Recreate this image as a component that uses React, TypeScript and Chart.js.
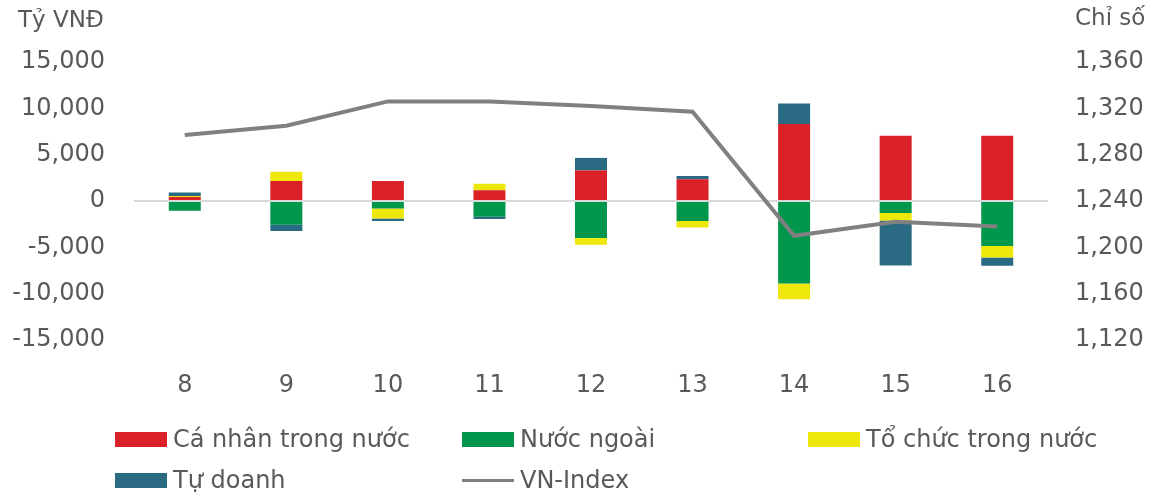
import React, { useEffect, useRef } from "react";
import { Chart, registerables } from "chart.js";

Chart.register(...registerables);

const categories = ["8", "9", "10", "11", "12", "13", "14", "15", "16"];
const caNhan = [430, 2150, 2150, 1150, 3300, 2350, 8300, 7050, 7050];
const nuocNgoai = [-1050, -2550, -800, -1700, -4000, -2150, -8900, -1300, -4850];
const toChuc = [100, 1000, -1100, 700, -720, -700, -1700, -800, -1250];
const tuDoanh = [400, -700, -250, -250, 1350, 350, 2230, -4850, -900];
const vnIndex = [1297, 1305, 1326, 1326, 1322, 1317, 1210, 1222, 1218];

const leftTicks = { min: -15000, max: 15000, step: 5000 };
const rightTicks = { min: 1120, max: 1360, step: 40 };

const FONT = "'DejaVu Sans', sans-serif";
const TEXT = "#595959";

const series = [
  { label: "Cá nhân trong nước", color: "#DA2128", data: caNhan, type: "bar" },
  { label: "Nước ngoài", color: "#00964B", data: nuocNgoai, type: "bar" },
  { label: "Tổ chức trong nước", color: "#EDE70B", data: toChuc, type: "bar" },
  { label: "Tự doanh", color: "#2A6A82", data: tuDoanh, type: "bar" },
  { label: "VN-Index", color: "#808080", data: vnIndex, type: "line" },
];

const legendPos = [
  { x: 115, y: 439 },
  { x: 462, y: 439 },
  { x: 808, y: 439 },
  { x: 115, y: 480 },
  { x: 462, y: 480 },
];

const fmt = (v: number) => v.toLocaleString("en-US");

const titlesPlugin = {
  id: "axisTitles",
  afterDraw(chart: any) {
    const c = chart.ctx;
    c.save();
    c.fillStyle = TEXT;
    c.font = `23px ${FONT}`;
    c.textBaseline = "middle";
    c.textAlign = "left";
    c.fillText("Tỷ VNĐ", 18, 21);
    c.fillText("Chỉ số", 1075, 19);
    c.restore();
  },
};

export default function App() {
  const ref = useRef<HTMLCanvasElement>(null);

  useEffect(() => {
    document.body.style.margin = "0";
    const datasets: any[] = series.map((s) =>
      s.type === "bar"
        ? {
            type: "bar",
            label: s.label,
            data: s.data,
            backgroundColor: s.color,
            borderWidth: 0,
            stack: "flows",
            yAxisID: "y",
            order: 1,
            categoryPercentage: 1,
            barPercentage: 0.315,
          }
        : {
            type: "line",
            label: s.label,
            data: s.data,
            borderColor: s.color,
            backgroundColor: s.color,
            borderWidth: 4,
            pointRadius: 0,
            tension: 0,
            yAxisID: "y1",
            order: 0,
            stack: "index",
          }
    );
    const chart = new Chart(ref.current!, {
      type: "bar",
      data: { labels: categories, datasets },
      plugins: [titlesPlugin],
      options: {
        animation: false,
        responsive: false,
        layout: { padding: { top: 62, bottom: 97, left: 0, right: 0 } },
        plugins: { legend: { display: false }, tooltip: { enabled: false } },
        scales: {
          x: {
            stacked: true,
            grid: { display: false },
            border: { display: false },
            ticks: { color: TEXT, font: { family: FONT, size: 24 }, padding: 23 },
            afterFit: (s: any) => {
              s.height = 60;
            },
          },
          y: {
            stacked: true,
            position: "left",
            min: leftTicks.min,
            max: leftTicks.max,
            border: { display: false },
            grid: {
              drawTicks: false,
              color: (ctx: any) => (ctx.tick && ctx.tick.value === 0 ? "#D9D9D9" : "rgba(0,0,0,0)"),
              lineWidth: 2,
            },
            ticks: {
              stepSize: leftTicks.step,
              color: TEXT,
              font: { family: FONT, size: 24 },
              padding: 29,
              callback: (v: any) => fmt(Number(v)),
            },
            afterFit: (s: any) => {
              s.width = 134;
            },
          },
          y1: {
            position: "right",
            min: rightTicks.min,
            max: rightTicks.max,
            border: { display: false },
            grid: { display: false, drawTicks: false },
            ticks: {
              stepSize: rightTicks.step,
              color: TEXT,
              font: { family: FONT, size: 24 },
              padding: 27,
              callback: (v: any) => fmt(Number(v)),
            },
            afterFit: (s: any) => {
              s.width = 107;
            },
          },
        },
      },
    } as any);
    return () => chart.destroy();
  }, []);

  return (
    <div style={{ position: "absolute", left: 0, top: 0, width: 1155, height: 497 }}>
      <canvas ref={ref} width={1155} height={497} style={{ display: "block" }} />
      {series.map((s, i) => (
        <div
          key={s.label}
          style={{
            position: "absolute",
            left: legendPos[i].x,
            top: legendPos[i].y - 15,
            height: 30,
            display: "flex",
            alignItems: "center",
            fontFamily: FONT,
            fontSize: 24,
            color: TEXT,
            whiteSpace: "nowrap",
          }}
        >
          {s.type === "bar" ? (
            <span style={{ display: "inline-block", width: 52, height: 15, background: s.color, marginRight: 6 }} />
          ) : (
            <span style={{ display: "inline-block", width: 52, height: 3, background: s.color, marginRight: 6 }} />
          )}
          <span>{s.label}</span>
        </div>
      ))}
    </div>
  );
}
